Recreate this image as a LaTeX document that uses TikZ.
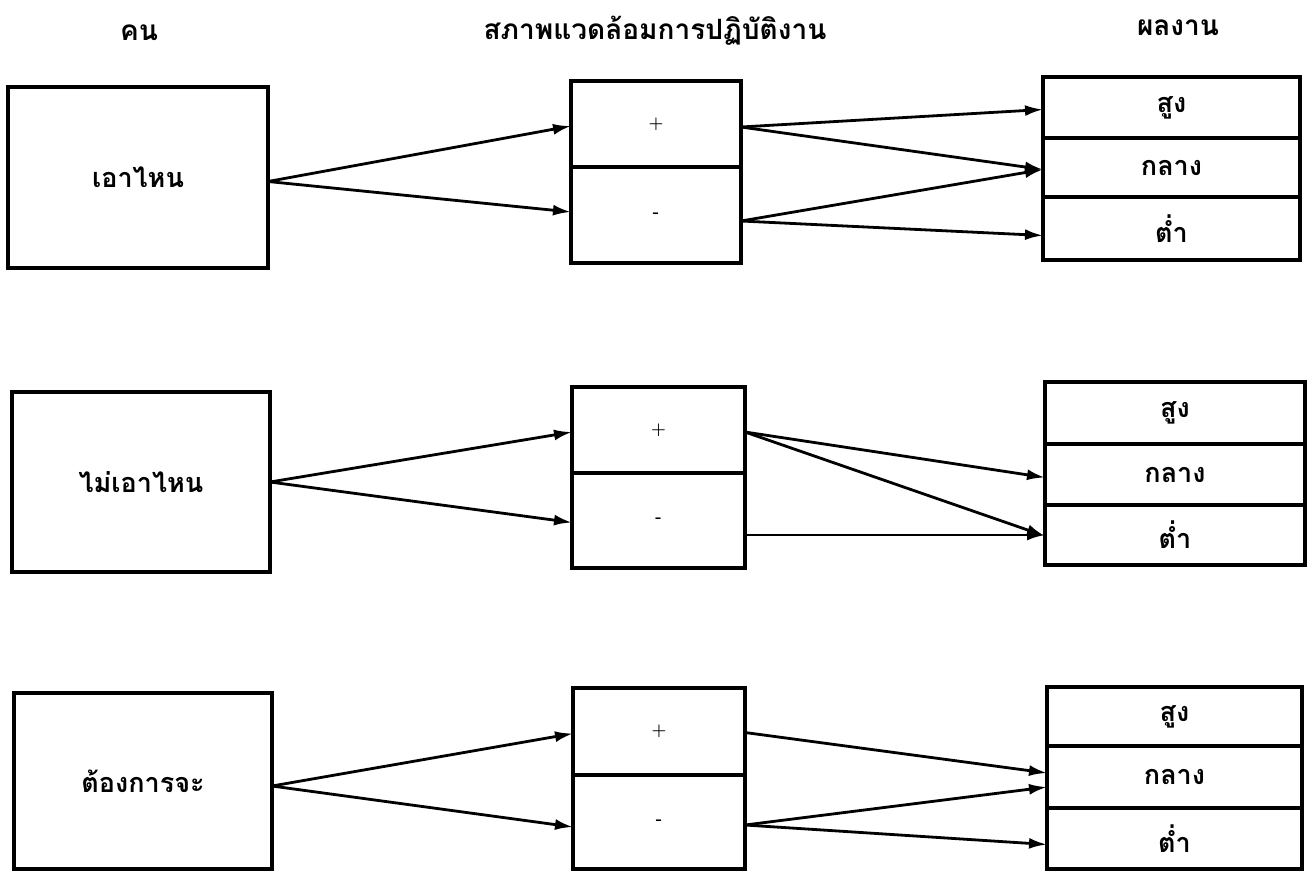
\documentclass[tikz,border=0pt]{standalone}
\usepackage{fontspec}
\newfontfamily\thai[Script=Thai]{Loma}
\usetikzlibrary{arrows.meta}
\begin{document}
\begin{tikzpicture}[x=1pt,y=-1pt,
  box/.style={draw,line width=3.2pt,inner sep=0pt,outer sep=0pt,
    font=\thai\bfseries\fontsize{27}{32}\selectfont},
  sign/.style={box,font=\bfseries\fontsize{17}{20}\selectfont},
  title/.style={inner sep=0pt,font=\thai\bfseries\fontsize{28}{32}\selectfont},
  conn/.style={line width=2.8pt,-{Latex[length=18pt,width=11pt]}}]
\useasboundingbox (0,0) rectangle (1308,871);
\fill[white] (0,0) rectangle (1308,871);
% titles
\node[title] (t1) at (139,33) {คน};
\node[title] (t2) at (655,31) {สภาพแวดล้อมการปฏิบัติงาน};
\node[title] (t3) at (1178,28) {ผลงาน};
% row 1
\node[box,minimum width=260pt,minimum height=181pt] (p1) at (138,177.5) {เอาไหน};
\node[sign,minimum width=170pt,minimum height=86pt] (m1p) at (656,124) {+};
\node[sign,minimum width=170pt,minimum height=96pt] (m1m) at (656,215) {-};
\node[box,minimum width=257pt,minimum height=61pt] (r1h) at (1171.5,107.5) {สูง};
\node[box,minimum width=257pt,minimum height=59pt] (r1m) at (1171.5,167.5) {กลาง};
\node[box,minimum width=257pt,minimum height=63pt] (r1l) at (1171.5,228.5) {ต่ำ};
% row 2
\node[box,minimum width=258pt,minimum height=180pt] (p2) at (141,482) {ไม่เอาไหน};
\node[sign,minimum width=173pt,minimum height=86pt] (m2p) at (658.5,430) {+};
\node[sign,minimum width=173pt,minimum height=95pt] (m2m) at (658.5,520.5) {-};
\node[box,minimum width=260pt,minimum height=62pt] (r2h) at (1175,413) {สูง};
\node[box,minimum width=260pt,minimum height=61pt] (r2m) at (1175,474.5) {กลาง};
\node[box,minimum width=260pt,minimum height=60pt] (r2l) at (1175,535) {ต่ำ};
% row 3
\node[box,minimum width=258pt,minimum height=176pt] (p3) at (143,781) {ต้องการจะ};
\node[sign,minimum width=172pt,minimum height=87pt] (m3p) at (659,731.5) {+};
\node[sign,minimum width=172pt,minimum height=94pt] (m3m) at (659,822) {-};
\node[box,minimum width=255pt,minimum height=59pt] (r3h) at (1174.5,716.5) {สูง};
\node[box,minimum width=255pt,minimum height=62pt] (r3m) at (1174.5,777) {กลาง};
\node[box,minimum width=255pt,minimum height=61pt] (r3l) at (1174.5,838.5) {ต่ำ};
% connectors row 1
\draw[conn] ([yshift=-4pt]p1.east) -- ([yshift=-2pt]m1p.west);
\draw[conn] ([yshift=-4pt]p1.east) -- ([yshift=3pt]m1m.west);
\draw[conn] ([yshift=-3pt]m1p.east) -- ([yshift=-2pt]r1h.west);
\draw[conn] ([yshift=-3pt]m1p.east) -- ([yshift=-2pt]r1m.west);
\draw[conn] ([yshift=-6pt]m1m.east) -- ([yshift=-2pt]r1m.west);
\draw[conn] ([yshift=-6pt]m1m.east) -- ([yshift=-7pt]r1l.west);
% connectors row 2
\draw[conn] (p2.east) -- ([yshift=-2pt]m2p.west);
\draw[conn] (p2.east) -- ([yshift=-2pt]m2m.west);
\draw[conn] ([yshift=-2pt]m2p.east) -- ([yshift=-3pt]r2m.west);
\draw[conn] ([yshift=-2pt]m2p.east) -- ([yshift=-1pt]r2l.west);
\draw[conn] (m2m.east |- r2l.west) -- (r2l.west);
% connectors row 3
\draw[conn] ([yshift=-5pt]p3.east) -- ([yshift=-2pt]m3p.west);
\draw[conn] ([yshift=-5pt]p3.east) -- ([yshift=-5pt]m3m.west);
\draw[conn] ([yshift=-1pt]m3p.east) -- ([yshift=4pt]r3m.west);
\draw[conn] ([yshift=-3pt]m3m.east) -- ([yshift=-10pt]r3m.west);
\draw[conn] ([yshift=-3pt]m3m.east) -- ([yshift=-6pt]r3l.west);
\end{tikzpicture}
\end{document}
